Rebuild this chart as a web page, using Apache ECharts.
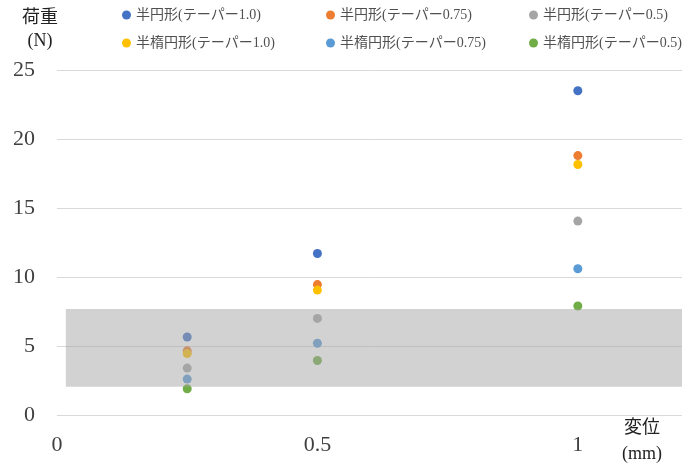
<!DOCTYPE html>
<html>
<head>
<meta charset="utf-8">
<script src="https://cdn.jsdelivr.net/npm/echarts@6/dist/echarts.min.js"></script>
<style>
  html, body { margin: 0; padding: 0; background: #fff; }
  #chart { width: 685px; height: 463px; }
</style>
</head>
<body>
<div id="chart"></div>
<script>
// Displacement (mm) at which each load was measured
const displacement = [0.25, 0.5, 1];

// Load (N) for each specimen shape / taper
const seriesNames = [
  '半円形(テーパー1.0)',
  '半円形(テーパー0.75)',
  '半円形(テーパー0.5)',
  '半楕円形(テーパー1.0)',
  '半楕円形(テーパー0.75)',
  '半楕円形(テーパー0.5)'
];
const semiCircle10 = [5.65, 11.7, 23.5];
const semiCircle075 = [4.65, 9.45, 18.8];
const semiCircle05 = [3.4, 7.0, 14.05];
const semiEllipse10 = [4.45, 9.05, 18.15];
const semiEllipse075 = [2.6, 5.2, 10.6];
const semiEllipse05 = [1.9, 3.95, 7.9];
const seriesValues = [semiCircle10, semiCircle075, semiCircle05, semiEllipse10, semiEllipse075, semiEllipse05];
const seriesColors = ['#4472C4', '#ED7D31', '#A5A5A5', '#FFC000', '#5B9BD5', '#70AD47'];

// Shaded reference range of load (N), spanning the displacement range
const bandLoad = [2.05, 7.68];
const bandDisp = [0.017, 1.2];

// Axis ranges and tick step
const xRange = [0, 1.2];
const xStep = 0.5;
const yRange = [0, 25];
const yStep = 5;

const FONT = "'Liberation Serif', 'Noto Sans CJK JP', serif";

const chart = echarts.init(document.getElementById('chart'), null, { renderer: 'canvas' });

const scatterSeries = seriesNames.map((name, i) => ({
  name: name,
  type: 'scatter',
  symbol: 'circle',
  symbolSize: 9,
  itemStyle: { color: seriesColors[i], opacity: 1 },
  data: displacement.map((x, j) => [x, seriesValues[i][j]]),
  z: 2
}));

// translucent band drawn over the points
scatterSeries.push({
  name: 'band',
  type: 'scatter',
  data: [],
  markArea: {
    silent: true,
    z: 3,
    itemStyle: { color: 'rgba(166,166,166,0.5)', borderWidth: 0 },
    data: [[
      { xAxis: bandDisp[0], yAxis: bandLoad[0] },
      { xAxis: bandDisp[1], yAxis: bandLoad[1] }
    ]]
  }
});

// one legend block per entry, laid out on a 3 x 2 grid
const legendCols = [122, 326, 529];
const legendRows = [8, 36];
const legends = seriesNames.map((name, i) => ({
  data: [name],
  left: legendCols[i % 3],
  top: legendRows[Math.floor(i / 3)],
  padding: 0,
  icon: 'circle',
  itemWidth: 9,
  itemHeight: 9,
  selectedMode: false,
  textStyle: { fontFamily: FONT, fontSize: 14, color: '#505050' }
}));

chart.setOption({
  animation: false,
  backgroundColor: '#ffffff',
  legend: legends,
  grid: { left: 57, right: 0, top: 70, bottom: 48, containLabel: false },
  xAxis: {
    type: 'value',
    min: xRange[0],
    max: xRange[1],
    interval: xStep,
    axisLine: { show: false },
    axisTick: { show: false },
    splitLine: { show: false },
    axisLabel: {
      margin: 19,
      fontFamily: FONT,
      fontSize: 22,
      color: '#404040',
      formatter: v => (Math.abs(v / xStep - Math.round(v / xStep)) < 1e-9 ? String(v) : '')
    }
  },
  yAxis: {
    type: 'value',
    min: yRange[0],
    max: yRange[1],
    interval: yStep,
    axisLine: { show: false },
    axisTick: { show: false },
    splitLine: { show: true, lineStyle: { color: '#d9d9d9', width: 1 } },
    axisLabel: {
      margin: 22,
      fontFamily: FONT,
      fontSize: 22,
      color: '#404040'
    }
  },
  graphic: [
    {
      type: 'text',
      style: {
        text: '荷重\n(N)',
        x: 40, y: 30,
        textAlign: 'center',
        textVerticalAlign: 'middle',
        font: "18px " + FONT,
        lineHeight: 23,
        fill: '#222222'
      }
    },
    {
      type: 'text',
      style: {
        text: '変位\n(mm)',
        x: 642, y: 441,
        textAlign: 'center',
        textVerticalAlign: 'middle',
        font: "18px " + FONT,
        lineHeight: 26,
        fill: '#222222'
      }
    }
  ],
  series: scatterSeries
});
</script>
</body>
</html>
